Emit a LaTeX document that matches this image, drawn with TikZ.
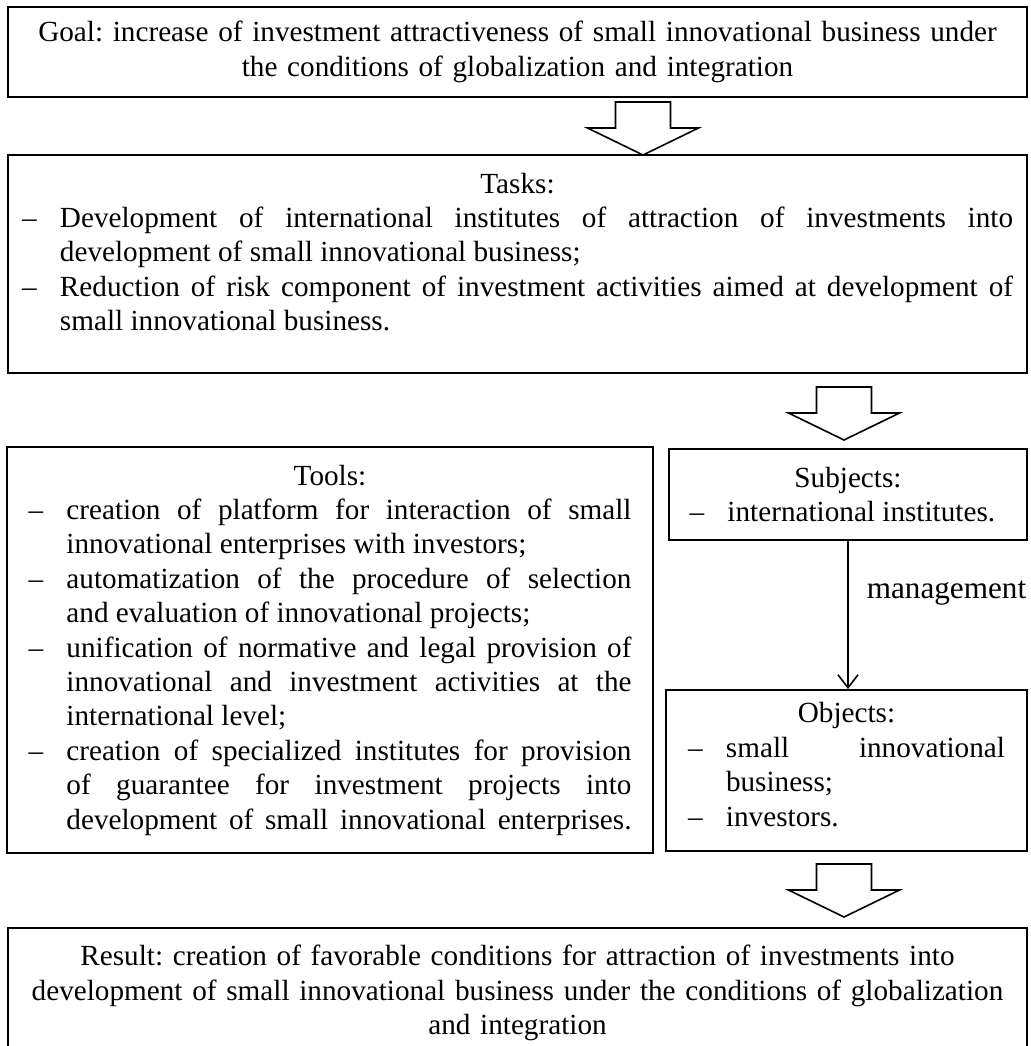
\documentclass[tikz,border=0pt]{standalone}
\usepackage{fontspec}
\setmainfont{Liberation Serif}
\usetikzlibrary{arrows.meta}
\newcommand{\boxfont}{\fontsize{14.6pt}{17.2pt}\selectfont\frenchspacing}
\newcommand{\boxhead}[1]{{\centering #1\par}}
\newcommand{\dashitem}{\par\hangindent=19pt\hangafter=1\noindent\makebox[19pt][l]{--}\ignorespaces}
\newcommand{\boxgap}[1]{\par\nointerlineskip\hbox{\rule{0pt}{#1}}}
\tolerance=10000
\hyphenpenalty=10000
\begin{document}
\begin{tikzpicture}[x=0.5pt, y=-0.5pt,
  box/.style={draw, line width=0.9pt, inner sep=0pt, font=\boxfont},
  listbox/.style={box, align=justify},
  pics/blockarrow/.style={code={
    \draw[line width=0.8pt] (0,0) -- (-55.5,-27) -- (-27.5,-27) -- (-27.5,-53)
      -- (27.5,-53) -- (27.5,-27) -- (55.5,-27) -- cycle;}}]
\useasboundingbox (0,0) rectangle (1031,1046);

% Goal
\node[box, minimum width=509.5pt, minimum height=45pt, text width=495pt, align=center] (goal) at (517.5,52)
  {Goal: increase of investment attractiveness of small innovational business under\\
   the conditions of globalization and integration};

% Tasks
\node[listbox, minimum width=509.5pt, minimum height=109pt, text width=495.5pt] (tasks) at (517.5,264)
  {\boxhead{Tasks:}
   \dashitem Development of international institutes of attraction of investments into\linebreak
   development of small innovational business;
   \dashitem Reduction of risk component of investment activities aimed at development of\linebreak
   small innovational business.\boxgap{12pt}};
\pic (goaltotasks) at (643,155) {blockarrow};

% Tools
\node[listbox, minimum width=323pt, minimum height=203pt, text width=301.5pt] (tools) at (330,650)
  {\boxhead{Tools:}
   \dashitem creation of platform for interaction of small\linebreak
   innovational enterprises with investors;
   \dashitem automatization of the procedure of selection\linebreak
   and evaluation of innovational projects;
   \dashitem unification of normative and legal provision of\linebreak
   innovational and investment activities at the\linebreak
   international level;
   \dashitem creation of specialized institutes for provision\linebreak
   of guarantee for investment projects into\linebreak
   development of small innovational enterprises.\parfillskip=0pt\par};

% Subjects and objects
\node[listbox, minimum width=179pt, minimum height=45.5pt, text width=158.5pt] (subjects) at (848,494.5)
  {\boxhead{Subjects:}
   \dashitem international institutes.\par};
\node[listbox, minimum width=180.5pt, minimum height=80.5pt, text width=158.5pt] (objects) at (846.5,770.5)
  {\boxhead{Objects:}
   \dashitem small innovational\linebreak
   business;
   \dashitem investors.\boxgap{6pt}};
\pic (taskstosubjects) at (844,440) {blockarrow};

\draw[line width=0.8pt, -{Straight Barb[length=6.5pt,width=10pt]}] (subjects.south) -- (subjects.south |- objects.north)
  node[pos=0.35, right=9pt, inner sep=0pt, font=\fontsize{15.6pt}{18pt}\selectfont] {management};

% Result
\node[box, minimum width=509.5pt, minimum height=65pt, text width=495pt, align=center] (result) at (517.5,993)
  {Result: creation of favorable conditions for attraction of investments into\\
   development of small innovational business under the conditions of globalization\\
   and integration};
\pic (objectstoresult) at (844,917) {blockarrow};
\end{tikzpicture}
\end{document}
